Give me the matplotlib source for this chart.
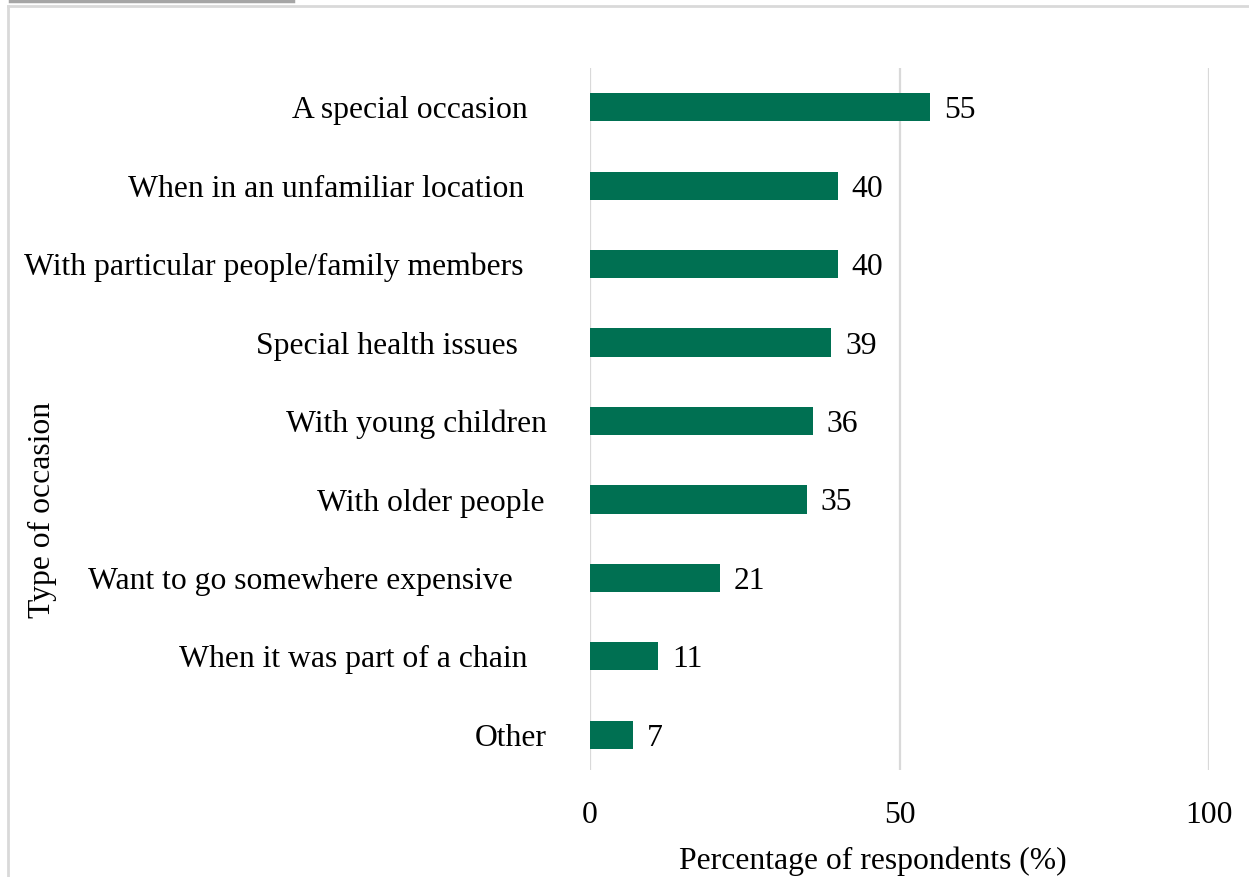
import matplotlib.pyplot as plt
from matplotlib.lines import Line2D
from matplotlib.transforms import ScaledTranslation

plt.rcParams["font.family"] = ["Liberation Serif", "DejaVu Serif"]

occasions = [
    "A special occasion",
    "When in an unfamiliar location",
    "With particular people/family members",
    "Special health issues",
    "With young children",
    "With older people",
    "Want to go somewhere expensive",
    "When it was part of a chain",
    "Other",
]
percentages = [55, 40, 40, 39, 36, 35, 21, 11, 7]
x_ticks = [0, 50, 100]

# extra right padding (px) of each category label, top to bottom
label_pad_px = [19, 23, 23, 29, 0, 2, 34, 19, 0]

FS = 22.8
W, H = 1249, 877
fig = plt.figure(figsize=(W / 100, H / 100), dpi=100)
ax = fig.add_axes([590 / W, 1 - 770 / H, (1209 - 590) / W, (770 - 68) / H])

pos = list(range(len(occasions)))
bars = ax.barh(pos, percentages, height=0.36, color="#007052", zorder=3)
vals = ax.bar_label(bars, labels=[str(v) for v in percentages], padding=10, fontsize=FS)
for t in vals:
    t.set_va("center_baseline")

ax.set_xlim(0, 100)
ax.set_ylim(len(occasions) - 0.55, -0.5)
ax.set_xticks(x_ticks)
ax.set_xticklabels([str(t) for t in x_ticks], fontsize=FS)
ax.set_yticks(pos)
ax.set_yticklabels(occasions, fontsize=FS)
ax.tick_params(axis="both", length=0)
ax.tick_params(axis="y", pad=31)
ax.tick_params(axis="x", pad=22)
for lbl, p in zip(ax.get_yticklabels(), label_pad_px):
    lbl.set_transform(lbl.get_transform() + ScaledTranslation(-p / 100, 0, fig.dpi_scale_trans))

ax.xaxis.grid(True, color="#d9d9d9", linewidth=1.6, zorder=0)
for s in ax.spines.values():
    s.set_visible(False)

ax.set_xlabel("Percentage of respondents (%)", fontsize=FS, labelpad=12)
ax.xaxis.label.set_x(0.457)
fig.text(42 / W, 1 - 510 / H, "Type of occasion", rotation=90, fontsize=FS,
         ha="center", va="center")

# outer frame and the darker tab line in the top-left corner
px = lambda x, y: (x / W, 1 - y / H)
fig.add_artist(Line2D(*zip(px(8, 6), px(W, 6)), color="#d9d9d9", linewidth=2,
                      transform=fig.transFigure))
fig.add_artist(Line2D(*zip(px(8, 6), px(8, H)), color="#d9d9d9", linewidth=2,
                      transform=fig.transFigure))
fig.add_artist(Line2D(*zip(px(10, 1), px(293, 1)), color="#a6a6a6", linewidth=2.5,
                      transform=fig.transFigure))

fig.savefig("out.png", dpi=100)
